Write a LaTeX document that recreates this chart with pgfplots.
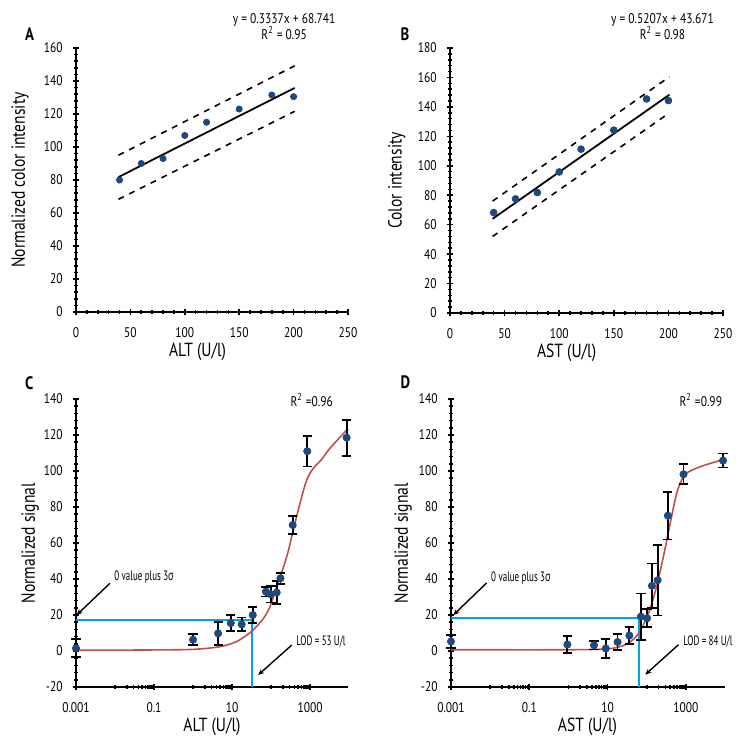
\documentclass[border=0pt]{standalone}
\usepackage{fontspec}
\setmainfont{PT Sans}[FakeStretch=0.82]
\newfontfamily\condfont{PT Sans}[FakeStretch=0.66]
\newfontfamily\greekfont{Noto Sans}[FakeStretch=0.66]
\usepackage{pgfplots}
\pgfplotsset{compat=1.18}
\usetikzlibrary{arrows.meta}
\definecolor{dotblue}{RGB}{31,73,125}
\definecolor{fitred}{RGB}{192,80,77}
\definecolor{lodblue}{RGB}{0,164,228}
\pgfplotsset{
 panel/.style={
  scale only axis,
  anchor=south west,
  axis x line*=bottom, axis y line*=left,
  axis line style={line width=1pt},
  tick align=center,
  major tick length=3.4pt,
  minor tick length=1.6pt,
  tick style={line width=0.8pt, black},
  ticklabel style={font=\fontsize{7}{8}\selectfont},
  xticklabel style={yshift=-2.5pt},
  yticklabel style={xshift=-1.5pt},
  label style={font=\fontsize{9.5}{11}\selectfont},
  clip=false,
 },
 ebars/.style={error bars/.cd, y dir=both, y explicit,
   error bar style={draw=black, line width=0.9pt},
   error mark options={draw=black, rotate=90, mark size=2.3pt, line width=0.9pt}},
}
\tikzset{annot/.style={font=\condfont\fontsize{6.8}{7.5}\selectfont, inner sep=0pt, anchor=west},
 arr/.style={-{Stealth[length=3pt,width=2.6pt]}, line width=0.7pt, black}}
\begin{document}
\begin{tikzpicture}
\useasboundingbox (0,0) rectangle (373.5pt,372pt);
% ---------------- A
\begin{axis}[panel, at={(38pt,216pt)}, width=136pt, height=132pt,
 xmin=0, xmax=250, ymin=0, ymax=160,
 xtick={0,50,...,250}, ytick={0,20,...,160},
 xticklabels={0,50,100,150,200,250}, yticklabels={0,20,40,60,80,100,120,140,160},
 minor x tick num=4, minor y tick num=4,
 xlabel={ALT (U/l)}, ylabel={Normalized color intensity},
 xlabel style={at={(axis description cs:0.447,-0.1515)}, anchor=center},
 ylabel style={at={(axis description cs:-0.206,0.5)}, anchor=center}]
\addplot[black, line width=0.9pt] coordinates {(39,81.75)(201,135.81)};
\addplot[black, dashed, line width=0.8pt] coordinates {(39,95)(201,149.2)};
\addplot[black, dashed, line width=0.8pt] coordinates {(39,68.3)(201,121.6)};
\addplot[only marks, mark=*, mark size=1.55pt, dotblue] coordinates {(40,80)(60,90)(80,93)(100,107)(120,115)(150,123)(180,131.5)(200,130.5)};
\end{axis}
% ---------------- B
\begin{axis}[panel, at={(225pt,215.5pt)}, width=136.5pt, height=132.5pt,
 xmin=0, xmax=250, ymin=0, ymax=180,
 xtick={0,50,...,250}, ytick={0,20,...,180},
 xticklabels={0,50,100,150,200,250}, yticklabels={0,20,40,60,80,100,120,140,160,180},
 minor x tick num=4, minor y tick num=4,
 xlabel={AST (U/l)}, ylabel={Color intensity},
 xlabel style={at={(axis description cs:0.427,-0.1515)}, anchor=center},
 ylabel style={at={(axis description cs:-0.195,0.5)}, anchor=center}]
\addplot[black, line width=0.9pt] coordinates {(39,63.98)(201,148.33)};
\addplot[black, dashed, line width=0.8pt] coordinates {(39,76)(201,160.5)};
\addplot[black, dashed, line width=0.8pt] coordinates {(39,52)(201,136)};
\addplot[only marks, mark=*, mark size=1.7pt, dotblue] coordinates {(40,68.2)(60,77.5)(80,81.8)(100,95.8)(120,111.3)(150,124.2)(180,145.4)(200,144.3)};
\end{axis}
% ---------------- C
\begin{axis}[panel, xmode=log, at={(38pt,28.5pt)}, width=136pt, height=144pt,
 xmin=0.001, xmax=9420, ymin=-20, ymax=140,
 xtick={0.001,0.1,10,1000}, xticklabels={0.001,0.1,10,1000},
 minor xtick={0.01,0.02,0.03,0.04,0.05,0.06,0.07,0.08,0.09,1,2,3,4,5,6,7,8,9,100,200,300,400,500,600,700,800,900},
 ytick={-20,0,...,140}, yticklabels={-20,0,20,40,60,80,100,120,140},
 minor y tick num=4,
 xlabel={ALT (U/l)}, ylabel={Normalized signal},
 xlabel style={at={(axis description cs:0.5,-0.138)}, anchor=center},
 ylabel style={at={(axis description cs:-0.169,0.5)}, anchor=center}]
\addplot[lodblue, line width=1pt] coordinates {(0.001,17)(32,17)(32,-20)};
\addplot[fitred, line width=0.8pt, smooth] coordinates {(0.001,0.5)(0.01,0.5)(0.1,0.6)(1,0.9)(4.9,2.4)(13,5.2)(24,8.9)(35,11.7)(64,18.1)(94,24.6)(140,35.7)(253,52.4)(373,67.2)(554,82)(823,95)(1216,101.5)(2000,106.5)(3236,112.6)(9420,123.5)};
\addplot[only marks, mark=*, mark size=1.8pt, dotblue, ebars] table[x=x, y=y, y error=e] {
x y e
0.001 1.5 5
1.0 6.3 3
4.4 9.8 6.5
9.3 15.5 4.5
17.7 14.8 3.8
34 20 4.5
74 33 2.7
100 31.5 4.5
140 32.5 6.5
175 40.4 3
360 70 5
850 111 8.5
8700 118.5 10
};
\draw[arr] (axis cs:0.0074,37.6) -- (axis cs:0.00104,20);
\node[annot] at (axis cs:0.0094,40.9) {0 value plus 3{\greekfont σ}};
\draw[arr] (axis cs:340,3.3) -- (axis cs:47,-13.3);
\node[annot] at (axis cs:437,5.2) {LOD = 53 U/l};
\end{axis}
% ---------------- D
\begin{axis}[panel, xmode=log, at={(225.5pt,28.5pt)}, width=137pt, height=144pt,
 xmin=0.001, xmax=10000, ymin=-20, ymax=140,
 xtick={0.001,0.1,10,1000}, xticklabels={0.001,0.1,10,1000},
 minor xtick={0.01,0.02,0.03,0.04,0.05,0.06,0.07,0.08,0.09,1,2,3,4,5,6,7,8,9,100,200,300,400,500,600,700,800,900},
 ytick={-20,0,...,140}, yticklabels={-20,0,20,40,60,80,100,120,140},
 minor y tick num=4,
 xlabel={AST (U/l)}, ylabel={Normalized signal},
 xlabel style={at={(axis description cs:0.498,-0.138)}, anchor=center},
 ylabel style={at={(axis description cs:-0.175,0.5)}, anchor=center}]
\addplot[lodblue, line width=1pt] coordinates {(0.001,18.2)(65,18.2)(65,-20)};
\addplot[fitred, line width=0.8pt, smooth] coordinates {(0.001,0.7)(1,0.7)(10,1.2)(25,3)(40,5.5)(56,8.5)(80,14)(120,23)(182,36.5)(270,53)(398,71)(590,88)(874,97)(1290,100)(2800,103)(9500,106.5)};
\addplot[only marks, mark=*, mark size=1.8pt, dotblue, ebars] table[x=x, y=y, y error=e] {
x y e
0.001 5.3 3.7
0.94 3.6 4.8
4.5 3.2 2.4
9.0 1.4 5.2
18 5.0 4.3
36 8.6 4.9
71 19.1 12.9
102 18.2 5
136 36.2 12.4
190 39.3 19.6
347 75.2 13.3
870 98.2 5.5
8900 105.8 3.9
};
\draw[arr] (axis cs:0.0081,37.8) -- (axis cs:0.00115,20);
\node[annot] at (axis cs:0.0104,40.8) {0 value plus 3{\greekfont σ}};
\draw[arr] (axis cs:646,3.5) -- (axis cs:92,-13.1);
\node[annot] at (axis cs:841,5.3) {LOD = 84 U/l};
\end{axis}
% ---------------- texts
\node[font=\bfseries\fontsize{9}{10}\selectfont] at (14.85pt,354.85pt) {A};
\node[font=\bfseries\fontsize{9}{10}\selectfont] at (202.5pt,354.85pt) {B};
\node[font=\bfseries\fontsize{9}{10}\selectfont] at (14.6pt,180.6pt) {C};
\node[font=\bfseries\fontsize{9}{10}\selectfont] at (202.65pt,180.75pt) {D};
\node[font=\fontsize{7}{8}\selectfont] at (142.1pt,362pt) {y = 0.3337x + 68.741};
\node[font=\fontsize{7}{8}\selectfont] at (142.1pt,355.35pt) {R\textsuperscript{2} = 0.95};
\node[font=\fontsize{7}{8}\selectfont] at (331.25pt,362pt) {y = 0.5207x + 43.671};
\node[font=\fontsize{7}{8}\selectfont] at (331.25pt,355.35pt) {R\textsuperscript{2} = 0.98};
\node[font=\fontsize{7}{8}\selectfont] at (155.85pt,172pt) {R\textsuperscript{2} =0.96};
\node[font=\fontsize{7}{8}\selectfont] at (350.4pt,172pt) {R\textsuperscript{2} =0.99};
\end{tikzpicture}
\end{document}
